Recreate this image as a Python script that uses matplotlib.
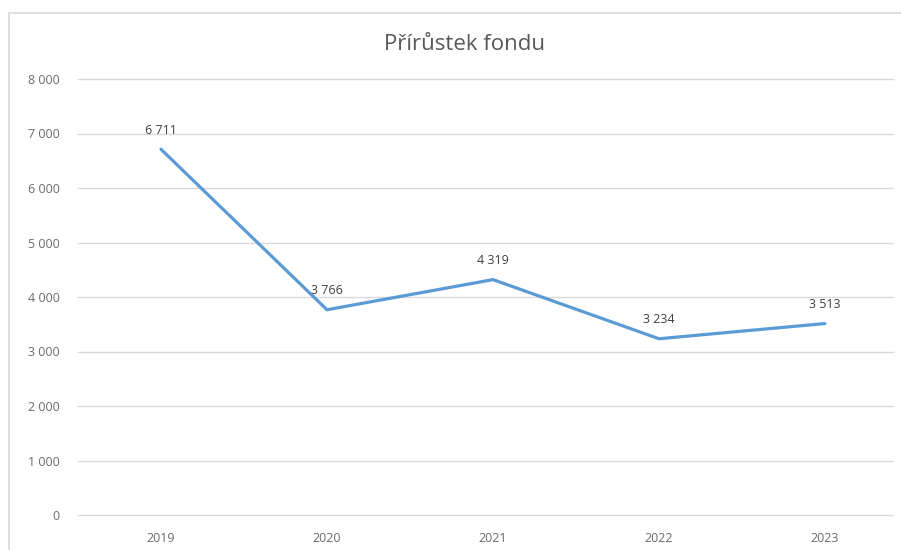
import matplotlib
matplotlib.use("Agg")
import matplotlib.pyplot as plt
from matplotlib.patches import Rectangle

years = ["2019", "2020", "2021", "2022", "2023"]
values = [6711, 3766, 4319, 3234, 3513]
value_labels = ["6 711", "3 766", "4 319", "3 234", "3 513"]
yticks = [0, 1000, 2000, 3000, 4000, 5000, 6000, 7000, 8000]
ytick_labels = ["0", "1 000", "2 000", "3 000", "4 000", "5 000", "6 000", "7 000", "8 000"]

plt.rcParams["font.family"] = ["Open Sans", "DejaVu Sans"]

W, H = 901, 550
fig = plt.figure(figsize=(W / 100, H / 100), dpi=100)
fig.patch.set_facecolor("white")

# chart border (Excel-style frame)
fig.patches.append(Rectangle((9 / W, -0.05), 1.0, 1 - 13 / H + 0.05,
                             transform=fig.transFigure, fill=False,
                             edgecolor="#D9D9D9", linewidth=1.2))

ax = fig.add_axes([78 / W, 35 / H, (893 - 78) / W, (515 - 79) / H])
x = list(range(len(years)))
ax.plot(x, values, color="#5B9BD5", linewidth=2.3, solid_capstyle="round",
        solid_joinstyle="round", zorder=3)

for xi, v, lab in zip(x, values, value_labels):
    ax.annotate(lab, (xi, v), xytext=(0, 9), textcoords="offset points",
                ha="center", va="bottom", fontsize=9, color="#404040")

ax.set_xlim(-0.5, 4.41)
ax.set_ylim(0, 8000)
ax.set_yticks(yticks)
ax.set_yticklabels(ytick_labels)
ax.set_xticks(x)
ax.set_xticklabels(years)
ax.tick_params(axis="both", length=0, labelsize=9, labelcolor="#6b6b6b")
ax.tick_params(axis="y", pad=13)
ax.tick_params(axis="x", pad=12)
ax.grid(axis="y", color="#D9D9D9", linewidth=1)
for gl in ax.get_ygridlines():
    gl.set_clip_on(False)
ax.set_axisbelow(True)
for s in ax.spines.values():
    s.set_visible(False)

fig.text(465 / W, 1 - 44 / H, "Přírůstek fondu", ha="center", va="center",
         fontsize=16, color="#595959")

fig.savefig("out.png", dpi=100, facecolor="white")
